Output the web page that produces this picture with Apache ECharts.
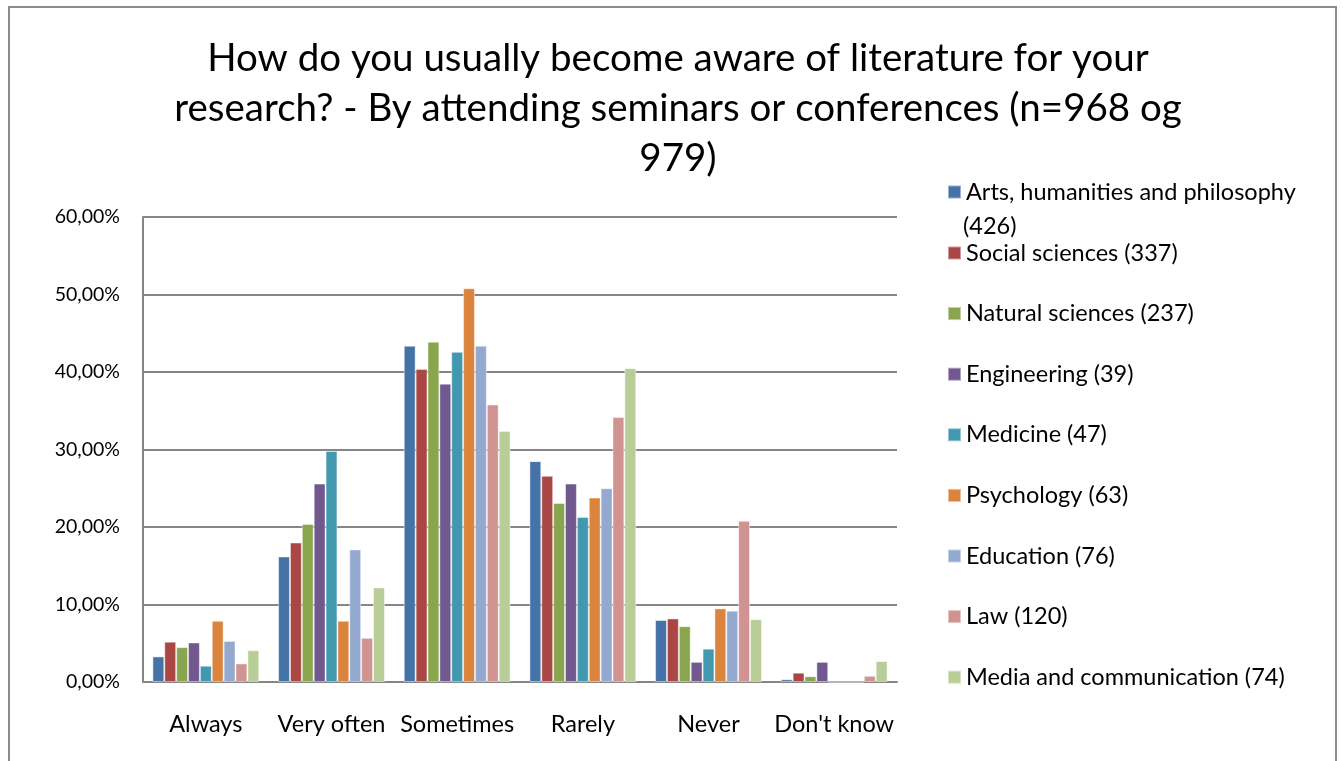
<!DOCTYPE html>
<html>
<head>
<meta charset="utf-8">
<script src="https://cdn.jsdelivr.net/npm/echarts@6/dist/echarts.min.js"></script>
<style>
  html, body { margin: 0; padding: 0; background: #fff; }
  #frame { position: absolute; left: 8px; top: 6px; width: 1329px; height: 800px; border: 2px solid #8c8c8c; box-sizing: border-box; }
  #chart { position: absolute; left: 0; top: 0; width: 1343px; height: 761px; }
</style>
</head>
<body>
<div id="frame"></div>
<div id="chart"></div>
<script>
const categories = ['Always', 'Very often', 'Sometimes', 'Rarely', 'Never', "Don't know"]

const seriesNames = [
  'Arts, humanities and philosophy (426)',
  'Social sciences (337)',
  'Natural sciences (237)',
  'Engineering (39)',
  'Medicine (47)',
  'Psychology (63)',
  'Education (76)',
  'Law (120)',
  'Media and communication (74)'
]

// percent values per series, one per category
const arts = [3.3, 16.2, 43.4, 28.5, 8.0, 0.35]
const social = [5.2, 18.0, 40.4, 26.6, 8.2, 1.2]
const natural = [4.5, 20.4, 43.9, 23.1, 7.2, 0.74]
const engineering = [5.1, 25.6, 38.5, 25.6, 2.6, 2.6]
const medicine = [2.1, 29.8, 42.6, 21.3, 4.3, 0]
const psychology = [7.9, 7.9, 50.8, 23.8, 9.5, 0]
const education = [5.3, 17.1, 43.4, 25.0, 9.2, 0]
const law = [2.4, 5.7, 35.8, 34.2, 20.8, 0.8]
const media = [4.1, 12.2, 32.4, 40.5, 8.1, 2.7]

const yTicks = [0, 10, 20, 30, 40, 50, 60]

const colors = ['#4572A7', '#AA4643', '#89A54E', '#71588F', '#4198AF', '#DB843D', '#93A9CF', '#D19392', '#B9CD96']
const values = [arts, social, natural, engineering, medicine, psychology, education, law, media]

const font = 'Lato, "Open Sans", sans-serif'
const legendText = { fontFamily: font, fontSize: 23.5, lineHeight: 30, color: '#000' }

let chart = echarts.init(document.getElementById('chart'))

const option = {
  animation: false,
  color: colors,
  title: {
    text: 'How do you usually become aware of literature for your\nresearch? - By attending seminars or conferences (n=968 og\n979)',
    left: 673,
    top: 29,
    textAlign: 'center',
    textStyle: {
      fontFamily: font,
      fontWeight: 'normal',
      fontSize: 38.5,
      lineHeight: 50,
      color: '#000'
    }
  },
  legend: [
    {
      orient: 'vertical',
      left: 942,
      top: 172,
      itemWidth: 13,
      itemHeight: 13,
      itemGap: 8,
      icon: 'rect',
      data: [seriesNames[0]],
      // the long first name wraps, second line is drawn below
      formatter: name => name.replace(' (426)', ''),
      textStyle: legendText
    },
    {
      orient: 'vertical',
      left: 942,
      top: 233,
      itemWidth: 13,
      itemHeight: 13,
      itemGap: 30.6,
      icon: 'rect',
      data: seriesNames.slice(1),
      textStyle: legendText
    }
  ],
  graphic: [
    {
      type: 'text',
      left: 963,
      top: 214,
      style: { text: '(426)', font: '23.5px ' + font, fill: '#000' }
    }
  ],
  grid: {
    left: 143,
    right: 446,
    top: 217,
    bottom: 79
  },
  xAxis: {
    type: 'category',
    data: categories,
    axisLine: { lineStyle: { color: '#868686', width: 2 } },
    axisTick: { show: false },
    axisLabel: {
      margin: 30,
      interval: 0,
      fontFamily: font,
      fontSize: 23.5,
      color: '#000'
    }
  },
  yAxis: {
    type: 'value',
    min: yTicks[0],
    max: yTicks[yTicks.length - 1],
    interval: 10,
    axisLine: { show: true, lineStyle: { color: '#868686', width: 2 } },
    axisTick: { show: false },
    splitLine: { lineStyle: { color: '#868686', width: 2 } },
    axisLabel: {
      margin: 23,
      fontFamily: font,
      fontSize: 19.5,
      color: '#000',
      formatter: v => v.toFixed(2).replace('.', ',') + '%'
    }
  },
  series: seriesNames.map((name, i) => ({
    name: name,
    type: 'bar',
    data: values[i],
    barGap: '0%',
    barCategoryGap: '15%',
    itemStyle: {
      borderColor: 'rgba(255,255,255,0.45)',
      borderWidth: 1
    }
  }))
}

chart.setOption(option)
</script>
</body>
</html>
